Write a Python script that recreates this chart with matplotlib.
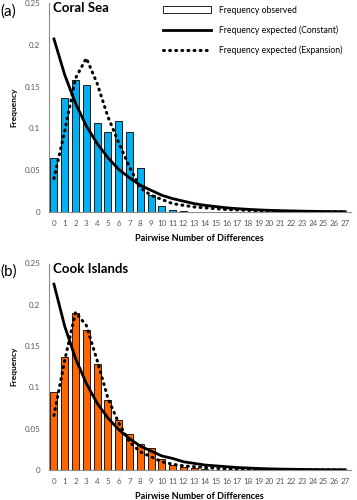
import matplotlib
matplotlib.use("Agg")
import matplotlib.pyplot as plt
from matplotlib.patches import Patch
from matplotlib.lines import Line2D

plt.rcParams['font.family'] = ['Lato', 'DejaVu Sans']

diffs = list(range(28))

# Coral Sea
coral_obs = [0.064, 0.136, 0.158, 0.152, 0.106, 0.096, 0.109, 0.096, 0.053, 0.020,
             0.007, 0.002, 0.001, 0, 0, 0, 0, 0, 0, 0, 0, 0, 0, 0, 0, 0, 0, 0]
coral_const = [0.207, 0.164, 0.130, 0.103, 0.082, 0.065, 0.051, 0.041, 0.032, 0.026,
               0.020, 0.016, 0.013, 0.010, 0.008, 0.0065, 0.005, 0.004, 0.0032, 0.0025,
               0.002, 0.0016, 0.0013, 0.001, 0.0008, 0.0006, 0.0005, 0.0004]
coral_exp = [0.040, 0.097, 0.160, 0.184, 0.154, 0.114, 0.083, 0.054, 0.029, 0.020,
             0.015, 0.010, 0.008, 0.006, 0.005, 0.004, 0.003, 0.0025, 0.002, 0.0015,
             0.001, 0.0008, 0.0006, 0.0005, 0.0004, 0.0003, 0.0002, 0.0002]

# Cook Islands
cook_obs = [0.095, 0.137, 0.190, 0.170, 0.128, 0.085, 0.061, 0.044, 0.032, 0.027,
            0.013, 0.006, 0.004, 0.002, 0.001, 0, 0, 0, 0, 0, 0, 0, 0, 0, 0, 0, 0, 0]
cook_const = [0.225, 0.174, 0.135, 0.105, 0.081, 0.063, 0.049, 0.038, 0.029, 0.023,
              0.017, 0.014, 0.010, 0.008, 0.006, 0.005, 0.004, 0.003, 0.0024, 0.0018,
              0.0014, 0.0011, 0.0009, 0.0007, 0.0005, 0.0004, 0.0003, 0.0003]
cook_exp = [0.066, 0.133, 0.191, 0.175, 0.133, 0.087, 0.057, 0.034, 0.022, 0.016,
            0.010, 0.007, 0.005, 0.004, 0.003, 0.002, 0.0015, 0.001, 0.0008, 0.0006,
            0.0005, 0.0004, 0.0003, 0.0002, 0.0002, 0.0001, 0.0001, 0.0001]

yticks = [0, 0.05, 0.1, 0.15, 0.2, 0.25]
ytick_labels = ['0', '0.05', '0.1', '0.15', '0.2', '0.25']

grey = '#595959'


def draw_panel(ax, obs, const, exp, color, title, letter):
    ax.bar(diffs, obs, width=0.65, color=color, edgecolor='black', linewidth=0.6, zorder=2)
    ax.plot(diffs, const, color='black', linewidth=2.0, zorder=3)
    ax.plot(diffs, exp, color='black', linewidth=2.2, linestyle=(0, (0.3, 1.7)),
            dash_capstyle='round', zorder=3)
    ax.set_xlim(-0.5, 27.5)
    ax.set_ylim(0, 0.25)
    ax.set_xticks(diffs)
    ax.set_xticklabels([str(d) for d in diffs], fontsize=5.8, color=grey)
    ax.set_yticks(yticks)
    ax.set_yticklabels(ytick_labels, fontsize=5.8, color=grey)
    ax.tick_params(length=0, pad=6)
    for s in ['top', 'right']:
        ax.spines[s].set_visible(False)
    ax.spines['left'].set_color('#8c8c8c')
    ax.spines['bottom'].set_color('#8c8c8c')
    ax.set_ylabel('Frequency', fontsize=6, fontweight='bold', labelpad=5)
    ax.set_xlabel('Pairwise Number of Differences', fontsize=6.5, fontweight='bold', labelpad=5)
    ax.text(0.015, 0.975, title, transform=ax.transAxes, fontsize=9.5,
            fontweight='bold', va='center', ha='left')
    ax.text(-0.16, 0.96, letter, transform=ax.transAxes, fontsize=11,
            va='center', ha='left')


fig = plt.figure(figsize=(3.57, 5.0), dpi=100)
ax1 = fig.add_axes([0.136, 0.576, 0.846, 0.418])
ax2 = fig.add_axes([0.136, 0.060, 0.846, 0.413])

draw_panel(ax1, coral_obs, coral_const, coral_exp, '#00B0F0', 'Coral Sea', '(a)')
draw_panel(ax2, cook_obs, cook_const, cook_exp, '#FF6600', 'Cook Islands', '(b)')

handles = [
    Patch(facecolor='white', edgecolor='black', linewidth=0.6),
    Line2D([], [], color='black', linewidth=2.0),
    Line2D([], [], color='black', linewidth=2.2, linestyle=(0, (0.3, 1.7)),
           dash_capstyle='round'),
]
labels = ['Frequency observed', 'Frequency expected (Constant)',
          'Frequency expected (Expansion)']
ax1.legend(handles, labels, loc='upper right', bbox_to_anchor=(1.0, 1.025),
           frameon=False, fontsize=6.2, handlelength=5.6, handleheight=0.9,
           handletextpad=1.0, labelspacing=1.25)

fig.savefig('out.png', dpi=100)
